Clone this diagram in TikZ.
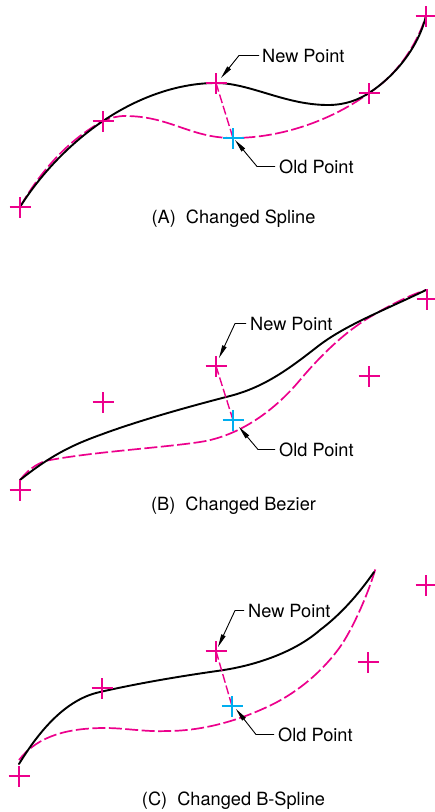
\documentclass[tikz,border=0pt]{standalone}
\usepackage{fontspec}
\setmainfont{TeX Gyre Heros}
\usetikzlibrary{arrows.meta}
\definecolor{cmag}{HTML}{EC008C}
\definecolor{ccy}{HTML}{00AEEF}
\tikzset{
  solidcurve/.style={black,line width=1.9pt,line cap=round},
  oldcurve/.style={cmag,line width=1.7pt,dash pattern=on 13pt off 3.5pt},
  moveline/.style={cmag,line width=1.4pt,dash pattern=on 9pt off 3pt},
  crossmag/.style={cmag,line width=2.4pt},
  crosscy/.style={ccy,line width=2.4pt},
  leader/.style={black,line width=0.9pt,-{Triangle[length=13pt,width=4.5pt]}},
  lab/.style={anchor=west,inner sep=0pt,font=\fontsize{18.2}{20}\selectfont},
  captext/.style={anchor=center,inner sep=0pt,font=\fontsize{18.2}{20}\selectfont},
}
\newcommand{\plusat}[2]{\draw[#1] ([xshift=-10.5pt]#2.center) -- ([xshift=10.5pt]#2.center) ([yshift=-10.5pt]#2.center) -- ([yshift=10.5pt]#2.center);}
\begin{document}
\begin{tikzpicture}[x=1pt,y=-1pt]
\useasboundingbox (0,0) rectangle (435,812);
% ---------- A
\coordinate (a1) at (20,207);
\coordinate (a2) at (103,121);
\coordinate (a3) at (216,83);
\coordinate (a4) at (369,93);
\coordinate (a5) at (426,16);
\coordinate (aold) at (233,138);
\draw[oldcurve] (a1) .. controls (40,172) and (68,140) .. (a2)
  .. controls (110,118) and (117,116) .. (125,116)
  .. controls (170,116) and (190,138) .. (aold)
  .. controls (285,138) and (335,118) .. (a4)
  .. controls (393,78) and (415,50) .. (a5);
\draw[solidcurve] (a1) .. controls (42,172) and (72,142) .. (a2)
  .. controls (140,96) and (180,83) .. (a3)
  .. controls (250,83) and (285,105) .. (328,105)
  .. controls (345,105) and (358,100) .. (a4)
  .. controls (395,76) and (418,48) .. (a5);
\draw[moveline] (a3) -- (aold);
\foreach \p in {a1,a2,a3,a4,a5}{\plusat{crossmag}{\p}}
\plusat{crosscy}{aold}
\node[lab] (anew) at (262,55.5) {New Point};
\node[lab] (aoldl) at (279,166.5) {Old Point};
\coordinate (abn) at (239,55.5);
\coordinate (abo) at (257,166.5);
\coordinate (atn) at (221,78);
\coordinate (ato) at (235,140);
\draw[leader] ([xshift=-3pt]anew.west) -- (abn) -- (atn);
\draw[leader] ([xshift=-4pt]aoldl.west) -- (abo) -- (ato);
\node[captext] (acap) at (233.5,219) {(A)\ \ Changed Spline};
% ---------- B
\coordinate (b1) at (20,490);
\coordinate (b2) at (103,402);
\coordinate (b3) at (216,366);
\coordinate (b4) at (369,376);
\coordinate (b5) at (427,299);
\coordinate (bold) at (233,420);
\coordinate (bs) at (20,480);
\coordinate (be) at (426,290);
\draw[oldcurve] (bs) .. controls (28,470) and (35,465) .. (45,461)
  .. controls (90,452) and (160,448) .. (200,442)
  .. controls (240,436) and (275,410) .. (300,380)
  .. controls (322,354) and (345,332) .. (370,317)
  .. controls (390,305) and (410,295) .. (be);
\draw[solidcurve] (bs) .. controls (50,456) and (72,445) .. (100,435)
  .. controls (140,420) and (195,405) .. (230,396)
  .. controls (265,387) and (290,368) .. (317,347)
  .. controls (345,325) and (385,310) .. (be);
\draw[moveline] (b3) -- (bold);
\foreach \p in {b1,b2,b3,b4,b5}{\plusat{crossmag}{\p}}
\plusat{crosscy}{bold}
\node[lab] (bnew) at (250,323.5) {New Point};
\node[lab] (boldl) at (279,449.5) {Old Point};
\coordinate (bbn) at (235,323.5);
\coordinate (bbo) at (258,449.5);
\coordinate (btn) at (219,358);
\coordinate (bto) at (239,427);
\draw[leader] ([xshift=-4pt]bnew.west) -- (bbn) -- (btn);
\draw[leader] ([xshift=-4pt]boldl.west) -- (bbo) -- (bto);
\node[captext] (bcap) at (233.5,506) {(B)\ \ Changed Bezier};
% ---------- C
\coordinate (c1) at (19,776);
\coordinate (c2) at (102,688);
\coordinate (c3) at (216,651);
\coordinate (c4) at (368,662);
\coordinate (c5) at (426,585);
\coordinate (cold) at (232,706);
\coordinate (cs) at (19,764);
\coordinate (ce) at (374,572);
\coordinate (cs2) at (19,760);
\coordinate (ce2) at (376,567);
\draw[oldcurve] (cs2) .. controls (38,735) and (70,728) .. (105,728)
  .. controls (125,728) and (145,732) .. (167,731)
  .. controls (200,731) and (235,722) .. (267,707)
  .. controls (300,692) and (325,668) .. (340,647)
  .. controls (352,630) and (368,595) .. (ce2);
\draw[solidcurve] (cs) .. controls (35,738) and (62,700) .. (100,692)
  .. controls (135,684) and (175,677) .. (217,671)
  .. controls (255,666) and (295,652) .. (320,630)
  .. controls (340,615) and (358,595) .. (ce);
\draw[moveline] (c3) -- (cold);
\foreach \p in {c1,c2,c3,c4,c5}{\plusat{crossmag}{\p}}
\plusat{crosscy}{cold}
\node[lab] (cnew) at (248,610.5) {New Point};
\node[lab] (coldl) at (278,734.5) {Old Point};
\coordinate (cbn) at (235,610.5);
\coordinate (cbo) at (256,734.5);
\coordinate (ctn) at (218,647);
\coordinate (cto) at (236,709);
\draw[leader] ([xshift=-4pt]cnew.west) -- (cbn) -- (ctn);
\draw[leader] ([xshift=-4pt]coldl.west) -- (cbo) -- (cto);
\node[captext] (ccap) at (233.5,801) {(C)\ \ Changed B-Spline};
\end{tikzpicture}
\end{document}
